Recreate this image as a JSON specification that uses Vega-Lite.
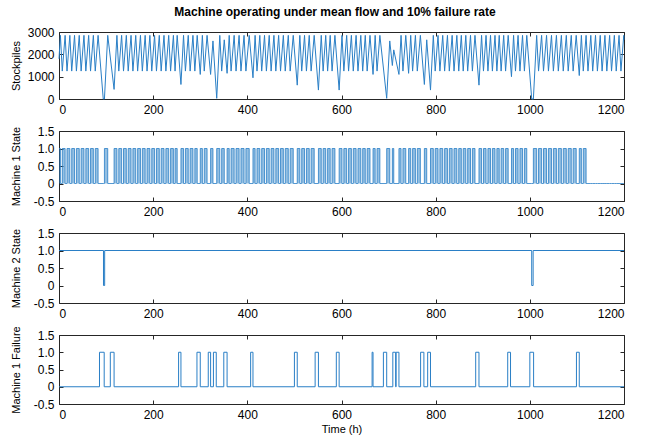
{
  "$schema": "https://vega.github.io/schema/vega-lite/v6.json",
  "padding": {"left": 9, "top": 5, "right": 5, "bottom": 5},
  "title": {
    "text": "Machine operating under mean flow and 10% failure rate",
    "font": "Liberation Sans",
    "fontSize": 12,
    "fontWeight": "bold",
    "color": "black",
    "anchor": "middle",
    "dx": 17,
    "offset": 7
  },
  "datasets": {
    "stock": [
      {"t": 0, "s": 1800, "m1": 1}, {"t": 3, "s": 2850, "m1": 0}, {"t": 7, "s": 1250, "m1": 1}, {"t": 13, "s": 2850, "m1": 0},
      {"t": 17, "s": 1250, "m1": 1}, {"t": 23, "s": 2850, "m1": 0}, {"t": 27, "s": 1250, "m1": 1}, {"t": 33, "s": 2850, "m1": 0},
      {"t": 37, "s": 1250, "m1": 1}, {"t": 43, "s": 2850, "m1": 0}, {"t": 47, "s": 1250, "m1": 1}, {"t": 53, "s": 2850, "m1": 0},
      {"t": 57, "s": 1250, "m1": 1}, {"t": 63, "s": 2850, "m1": 0}, {"t": 67, "s": 1250, "m1": 1}, {"t": 73, "s": 2850, "m1": 0},
      {"t": 77, "s": 1250, "m1": 1}, {"t": 83, "s": 2850, "m1": 0}, {"t": 94, "s": 0, "m1": 0}, {"t": 96.5, "s": 0, "m1": 1},
      {"t": 103.5, "s": 2850, "m1": 0}, {"t": 117, "s": 430, "m1": 1}, {"t": 123, "s": 2850, "m1": 0},
      {"t": 127, "s": 1250, "m1": 1}, {"t": 133, "s": 2850, "m1": 0}, {"t": 137, "s": 1250, "m1": 1}, {"t": 143, "s": 2850, "m1": 0},
      {"t": 147, "s": 1250, "m1": 1}, {"t": 153, "s": 2850, "m1": 0}, {"t": 157, "s": 1250, "m1": 1}, {"t": 163, "s": 2850, "m1": 0},
      {"t": 167, "s": 1250, "m1": 1}, {"t": 173, "s": 2850, "m1": 0}, {"t": 177, "s": 1250, "m1": 1}, {"t": 183, "s": 2850, "m1": 0},
      {"t": 187, "s": 1250, "m1": 1}, {"t": 193, "s": 2850, "m1": 0}, {"t": 197, "s": 1250, "m1": 1}, {"t": 203, "s": 2850, "m1": 0},
      {"t": 207, "s": 1250, "m1": 1}, {"t": 213, "s": 2850, "m1": 0}, {"t": 217, "s": 1250, "m1": 1}, {"t": 223, "s": 2850, "m1": 0},
      {"t": 227, "s": 1250, "m1": 1}, {"t": 233, "s": 2850, "m1": 0}, {"t": 237, "s": 1250, "m1": 1}, {"t": 243, "s": 2850, "m1": 0},
      {"t": 246.5, "s": 1250, "m1": 1}, {"t": 251, "s": 2850, "m1": 0}, {"t": 259, "s": 650, "m1": 1}, {"t": 264.5, "s": 2850, "m1": 0},
      {"t": 268.5, "s": 1250, "m1": 1}, {"t": 274.5, "s": 2850, "m1": 0}, {"t": 278.5, "s": 1250, "m1": 1}, {"t": 284.5, "s": 2850, "m1": 0},
      {"t": 288.5, "s": 1250, "m1": 1}, {"t": 293.5, "s": 2850, "m1": 0}, {"t": 300, "s": 1100, "m1": 1}, {"t": 304.5, "s": 2850, "m1": 0},
      {"t": 308.5, "s": 1250, "m1": 1}, {"t": 314.5, "s": 2850, "m1": 0}, {"t": 322, "s": 1100, "m1": 1}, {"t": 327, "s": 2600, "m1": 0},
      {"t": 335, "s": 30, "m1": 1}, {"t": 341.5, "s": 2850, "m1": 0}, {"t": 345.5, "s": 1250, "m1": 1}, {"t": 351, "s": 2650, "m1": 0},
      {"t": 357, "s": 1150, "m1": 1}, {"t": 361.5, "s": 2850, "m1": 0}, {"t": 365.5, "s": 1250, "m1": 1}, {"t": 372, "s": 2850, "m1": 0},
      {"t": 376, "s": 1250, "m1": 1}, {"t": 382.5, "s": 2850, "m1": 0}, {"t": 386.5, "s": 1250, "m1": 1}, {"t": 393, "s": 2850, "m1": 0},
      {"t": 397, "s": 1250, "m1": 1}, {"t": 404, "s": 2850, "m1": 0}, {"t": 412, "s": 950, "m1": 1}, {"t": 416.5, "s": 2850, "m1": 0},
      {"t": 420.5, "s": 1250, "m1": 1}, {"t": 426.5, "s": 2850, "m1": 0}, {"t": 430.5, "s": 1250, "m1": 1}, {"t": 436.5, "s": 2850, "m1": 0},
      {"t": 440.5, "s": 1250, "m1": 1}, {"t": 446.5, "s": 2850, "m1": 0}, {"t": 450.5, "s": 1250, "m1": 1}, {"t": 456.5, "s": 2850, "m1": 0},
      {"t": 460.5, "s": 1250, "m1": 1}, {"t": 466.5, "s": 2850, "m1": 0}, {"t": 470.5, "s": 1250, "m1": 1}, {"t": 476.5, "s": 2850, "m1": 0},
      {"t": 480.5, "s": 1250, "m1": 1}, {"t": 487, "s": 2850, "m1": 0}, {"t": 491, "s": 1250, "m1": 1}, {"t": 497.5, "s": 2850, "m1": 0},
      {"t": 506, "s": 620, "m1": 1}, {"t": 511.5, "s": 2850, "m1": 0}, {"t": 515.5, "s": 1250, "m1": 1}, {"t": 521.5, "s": 2850, "m1": 0},
      {"t": 525.5, "s": 1250, "m1": 1}, {"t": 531.5, "s": 2850, "m1": 0}, {"t": 535.5, "s": 1250, "m1": 1}, {"t": 542, "s": 2850, "m1": 0},
      {"t": 551, "s": 400, "m1": 1}, {"t": 557, "s": 2850, "m1": 0}, {"t": 561, "s": 1250, "m1": 1}, {"t": 566.5, "s": 2850, "m1": 0},
      {"t": 570.5, "s": 1250, "m1": 1}, {"t": 576, "s": 2850, "m1": 0}, {"t": 580, "s": 1250, "m1": 1}, {"t": 586, "s": 2850, "m1": 0},
      {"t": 595, "s": 400, "m1": 1}, {"t": 601, "s": 2850, "m1": 0}, {"t": 605, "s": 1250, "m1": 1}, {"t": 611, "s": 2850, "m1": 0},
      {"t": 615, "s": 1250, "m1": 1}, {"t": 621, "s": 2850, "m1": 0}, {"t": 625, "s": 1250, "m1": 1}, {"t": 631, "s": 2850, "m1": 0},
      {"t": 635, "s": 1250, "m1": 1}, {"t": 641, "s": 2850, "m1": 0}, {"t": 645, "s": 1250, "m1": 1}, {"t": 650.5, "s": 2850, "m1": 0},
      {"t": 654.5, "s": 1250, "m1": 1}, {"t": 660.5, "s": 2850, "m1": 0}, {"t": 667, "s": 1100, "m1": 1}, {"t": 671.5, "s": 2850, "m1": 0},
      {"t": 675.5, "s": 1250, "m1": 1}, {"t": 681.5, "s": 2850, "m1": 0}, {"t": 696, "s": 30, "m1": 1}, {"t": 702.5, "s": 2600, "m1": 0},
      {"t": 708, "s": 1500, "m1": 1}, {"t": 711, "s": 2200, "m1": 0}, {"t": 722, "s": 1100, "m1": 1}, {"t": 726.5, "s": 2850, "m1": 0},
      {"t": 730.5, "s": 1250, "m1": 1}, {"t": 736.5, "s": 2850, "m1": 0}, {"t": 742.5, "s": 1150, "m1": 1}, {"t": 747, "s": 2850, "m1": 0},
      {"t": 751, "s": 1250, "m1": 1}, {"t": 757, "s": 2850, "m1": 0}, {"t": 761, "s": 1250, "m1": 1}, {"t": 767.5, "s": 2850, "m1": 0},
      {"t": 776, "s": 650, "m1": 1}, {"t": 781, "s": 2650, "m1": 0}, {"t": 789, "s": 400, "m1": 1}, {"t": 795, "s": 2850, "m1": 0},
      {"t": 799, "s": 1250, "m1": 1}, {"t": 805, "s": 2850, "m1": 0}, {"t": 809, "s": 1250, "m1": 1}, {"t": 815, "s": 2850, "m1": 0},
      {"t": 819, "s": 1250, "m1": 1}, {"t": 825, "s": 2850, "m1": 0}, {"t": 829, "s": 1250, "m1": 1}, {"t": 835, "s": 2850, "m1": 0},
      {"t": 839, "s": 1250, "m1": 1}, {"t": 845, "s": 2850, "m1": 0}, {"t": 849, "s": 1250, "m1": 1}, {"t": 854.5, "s": 2850, "m1": 0},
      {"t": 858.5, "s": 1250, "m1": 1}, {"t": 864, "s": 2850, "m1": 0}, {"t": 868, "s": 1250, "m1": 1}, {"t": 874, "s": 2850, "m1": 0},
      {"t": 878, "s": 1250, "m1": 1}, {"t": 883.5, "s": 2850, "m1": 0}, {"t": 892, "s": 620, "m1": 1}, {"t": 897.5, "s": 2850, "m1": 0},
      {"t": 901.5, "s": 1250, "m1": 1}, {"t": 907, "s": 2850, "m1": 0}, {"t": 911, "s": 1250, "m1": 1}, {"t": 916.5, "s": 2850, "m1": 0},
      {"t": 920.5, "s": 1250, "m1": 1}, {"t": 926, "s": 2850, "m1": 0}, {"t": 930, "s": 1250, "m1": 1}, {"t": 935, "s": 2850, "m1": 0},
      {"t": 939, "s": 1250, "m1": 1}, {"t": 944.5, "s": 2850, "m1": 0}, {"t": 948.5, "s": 1250, "m1": 1}, {"t": 954, "s": 2850, "m1": 0},
      {"t": 961, "s": 1000, "m1": 1}, {"t": 965.5, "s": 2850, "m1": 0}, {"t": 969.5, "s": 1250, "m1": 1}, {"t": 975, "s": 2850, "m1": 0},
      {"t": 979, "s": 1250, "m1": 1}, {"t": 984.5, "s": 2850, "m1": 0}, {"t": 988.5, "s": 1250, "m1": 1}, {"t": 993.5, "s": 2850, "m1": 0},
      {"t": 1004, "s": 0, "m1": 0}, {"t": 1007.5, "s": 0, "m1": 1}, {"t": 1014.5, "s": 2850, "m1": 0},
      {"t": 1018.5, "s": 1250, "m1": 1}, {"t": 1025, "s": 2850, "m1": 0}, {"t": 1029, "s": 1250, "m1": 1}, {"t": 1035.5, "s": 2850, "m1": 0},
      {"t": 1039.5, "s": 1250, "m1": 1}, {"t": 1046, "s": 2850, "m1": 0}, {"t": 1050, "s": 1250, "m1": 1}, {"t": 1056.5, "s": 2850, "m1": 0},
      {"t": 1060.5, "s": 1250, "m1": 1}, {"t": 1067, "s": 2850, "m1": 0}, {"t": 1071, "s": 1250, "m1": 1}, {"t": 1077.5, "s": 2850, "m1": 0},
      {"t": 1081.5, "s": 1250, "m1": 1}, {"t": 1088, "s": 2850, "m1": 0}, {"t": 1092, "s": 1250, "m1": 1}, {"t": 1098.5, "s": 2850, "m1": 0},
      {"t": 1105, "s": 1050, "m1": 1}, {"t": 1109.5, "s": 2850, "m1": 0}, {"t": 1113.5, "s": 1250, "m1": 1}, {"t": 1119.5, "s": 2850, "m1": 0},
      {"t": 1123.5, "s": 1250, "m1": 0}, {"t": 1129.5, "s": 2850, "m1": 0}, {"t": 1133.5, "s": 1250, "m1": 0}, {"t": 1139.5, "s": 2850, "m1": 0},
      {"t": 1143.5, "s": 1250, "m1": 0}, {"t": 1149.5, "s": 2850, "m1": 0}, {"t": 1153.5, "s": 1250, "m1": 0}, {"t": 1159.5, "s": 2850, "m1": 0},
      {"t": 1163.5, "s": 1250, "m1": 0}, {"t": 1169.5, "s": 2850, "m1": 0}, {"t": 1173.5, "s": 1250, "m1": 0}, {"t": 1179.5, "s": 2850, "m1": 0},
      {"t": 1183.5, "s": 1250, "m1": 0}, {"t": 1189.5, "s": 2850, "m1": 0}, {"t": 1193.5, "s": 1250, "m1": 0}, {"t": 1199.5, "s": 2850, "m1": 0},
      {"t": 1200, "s": 2650, "m1": 0}
    ],
    "machine2": [
      {"t": 0, "v": 1}, {"t": 94.5, "v": 0}, {"t": 97, "v": 1}, {"t": 1004, "v": 0}, {"t": 1007, "v": 1}, {"t": 1200, "v": 1}
    ],
    "failure": [
      {"t": 0, "v": 0}, {"t": 86, "v": 1}, {"t": 96, "v": 0}, {"t": 109, "v": 1}, {"t": 117, "v": 0},
      {"t": 254, "v": 1}, {"t": 259, "v": 0}, {"t": 293, "v": 1}, {"t": 300, "v": 0}, {"t": 317, "v": 1}, {"t": 322, "v": 0},
      {"t": 328, "v": 1}, {"t": 334, "v": 0}, {"t": 350, "v": 1}, {"t": 357, "v": 0}, {"t": 407, "v": 1}, {"t": 412, "v": 0},
      {"t": 500, "v": 1}, {"t": 506, "v": 0}, {"t": 544, "v": 1}, {"t": 551, "v": 0}, {"t": 589, "v": 1}, {"t": 595, "v": 0},
      {"t": 665, "v": 1}, {"t": 667, "v": 0}, {"t": 689, "v": 1}, {"t": 696, "v": 0}, {"t": 709, "v": 1}, {"t": 715, "v": 0},
      {"t": 716, "v": 1}, {"t": 722, "v": 0}, {"t": 768, "v": 1}, {"t": 775, "v": 0}, {"t": 783, "v": 1}, {"t": 789, "v": 0},
      {"t": 885, "v": 1}, {"t": 892, "v": 0}, {"t": 953, "v": 1}, {"t": 959, "v": 0}, {"t": 1000, "v": 1}, {"t": 1008, "v": 0},
      {"t": 1099, "v": 1}, {"t": 1105, "v": 0}, {"t": 1200, "v": 0}
    ]
  },
  "vconcat": [
    {
      "data": {"name": "stock"},
      "width": 565,
      "height": 67,
      "layer": [
        {
          "mark": {"type": "line", "color": "#2a7fc6", "strokeWidth": 1},
          "encoding": {
            "x": {"field": "t", "type": "quantitative", "scale": {"domain": [0, 1200], "nice": false},
                  "axis": {"values": [0, 200, 400, 600, 800, 1000, 1200], "format": "d", "title": null}},
            "y": {"field": "s", "type": "quantitative", "scale": {"domain": [0, 3000], "nice": false},
                  "axis": {"values": [0, 1000, 2000, 3000], "format": "d", "title": "Stockpiles", "titleX": -38}}
          }
        },
        {
          "mark": {"type": "line", "opacity": 0},
          "encoding": {
            "x": {"field": "t", "type": "quantitative", "axis": {"orient": "top", "labels": false, "title": null, "values": [0, 200, 400, 600, 800, 1000, 1200]}},
            "y": {"field": "s", "type": "quantitative", "axis": {"orient": "right", "labels": false, "title": null, "values": [0, 1000, 2000, 3000]}}
          }
        }
      ],
      "resolve": {"axis": {"x": "independent", "y": "independent"}}
    },
    {
      "data": {"name": "stock"},
      "width": 565,
      "height": 70,
      "layer": [
        {
          "mark": {"type": "area", "color": "#2a7fc6", "fillOpacity": 0.5, "interpolate": "step-after",
                   "line": {"color": "#2a7fc6", "strokeWidth": 0.8}},
          "encoding": {
            "x": {"field": "t", "type": "quantitative", "scale": {"domain": [0, 1200], "nice": false},
                  "axis": {"values": [0, 200, 400, 600, 800, 1000, 1200], "format": "d", "title": null}},
            "y": {"field": "m1", "type": "quantitative", "scale": {"domain": [-0.5, 1.5], "nice": false},
                  "axis": {"values": [-0.5, 0, 0.5, 1, 1.5], "title": "Machine 1 State", "titleX": -38,
                           "labelExpr": "datum.value == 0 ? '0' : (datum.value < 0 ? '-' : '') + format(abs(datum.value), '.1f')"}},
            "y2": {"datum": 0}
          }
        },
        {
          "mark": {"type": "line", "opacity": 0},
          "encoding": {
            "x": {"field": "t", "type": "quantitative", "axis": {"orient": "top", "labels": false, "title": null, "values": [0, 200, 400, 600, 800, 1000, 1200]}},
            "y": {"field": "m1", "type": "quantitative", "axis": {"orient": "right", "labels": false, "title": null, "values": [-0.5, 0, 0.5, 1, 1.5]}}
          }
        }
      ],
      "resolve": {"axis": {"x": "independent", "y": "independent"}}
    },
    {
      "data": {"name": "machine2"},
      "width": 565,
      "height": 70,
      "layer": [
        {
          "mark": {"type": "line", "color": "#2a7fc6", "strokeWidth": 1, "interpolate": "step-after"},
          "encoding": {
            "x": {"field": "t", "type": "quantitative", "scale": {"domain": [0, 1200], "nice": false},
                  "axis": {"values": [0, 200, 400, 600, 800, 1000, 1200], "format": "d", "title": null}},
            "y": {"field": "v", "type": "quantitative", "scale": {"domain": [-0.5, 1.5], "nice": false},
                  "axis": {"values": [-0.5, 0, 0.5, 1, 1.5], "title": "Machine 2 State", "titleX": -38,
                           "labelExpr": "datum.value == 0 ? '0' : (datum.value < 0 ? '-' : '') + format(abs(datum.value), '.1f')"}}
          }
        },
        {
          "mark": {"type": "line", "opacity": 0},
          "encoding": {
            "x": {"field": "t", "type": "quantitative", "axis": {"orient": "top", "labels": false, "title": null, "values": [0, 200, 400, 600, 800, 1000, 1200]}},
            "y": {"field": "v", "type": "quantitative", "axis": {"orient": "right", "labels": false, "title": null, "values": [-0.5, 0, 0.5, 1, 1.5]}}
          }
        }
      ],
      "resolve": {"axis": {"x": "independent", "y": "independent"}}
    },
    {
      "data": {"name": "failure"},
      "width": 565,
      "height": 69,
      "layer": [
        {
          "mark": {"type": "line", "color": "#2a7fc6", "strokeWidth": 1, "interpolate": "step-after"},
          "encoding": {
            "x": {"field": "t", "type": "quantitative", "scale": {"domain": [0, 1200], "nice": false},
                  "axis": {"values": [0, 200, 400, 600, 800, 1000, 1200], "format": "d", "title": "Time (h)", "titlePadding": 3}},
            "y": {"field": "v", "type": "quantitative", "scale": {"domain": [-0.5, 1.5], "nice": false},
                  "axis": {"values": [-0.5, 0, 0.5, 1, 1.5], "title": "Machine 1 Failure", "titleX": -38,
                           "labelExpr": "datum.value == 0 ? '0' : (datum.value < 0 ? '-' : '') + format(abs(datum.value), '.1f')"}}
          }
        },
        {
          "mark": {"type": "line", "opacity": 0},
          "encoding": {
            "x": {"field": "t", "type": "quantitative", "axis": {"orient": "top", "labels": false, "title": null, "values": [0, 200, 400, 600, 800, 1000, 1200]}},
            "y": {"field": "v", "type": "quantitative", "axis": {"orient": "right", "labels": false, "title": null, "values": [-0.5, 0, 0.5, 1, 1.5]}}
          }
        }
      ],
      "resolve": {"axis": {"x": "independent", "y": "independent"}}
    }
  ],
  "spacing": 32,
  "bounds": "flush",
  "config": {
    "view": {"stroke": "#262626", "strokeWidth": 1},
    "axis": {
      "domain": false,
      "grid": false,
      "ticks": true,
      "tickSize": -4,
      "tickColor": "#262626",
      "labelPadding": 9,
      "labelFont": "Liberation Sans",
      "labelFontSize": 12,
      "labelColor": "black",
      "titleFont": "Liberation Sans",
      "titleFontSize": 11,
      "titleFontWeight": "normal",
      "titleColor": "black",
      "titlePadding": 4
    }
  }
}
